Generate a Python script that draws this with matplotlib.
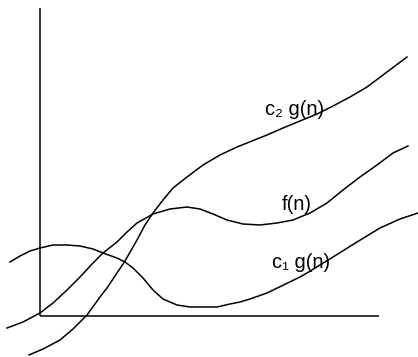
import numpy as np
import matplotlib
matplotlib.use('Agg')
import matplotlib.pyplot as plt

# Кривые (координаты от начала осей, y вверх)
c2_x = [-11, 3, 20, 33, 47, 60, 67, 77, 85, 97, 105, 113, 123, 133, 147, 163, 180, 197, 212, 227,
        243, 260, 277, 293, 310, 327, 343, 367]
c2_y = [-39, -33, -24, -13, 1, 19, 28, 43, 55, 76, 91, 103, 116, 128, 139, 151, 161, 169, 175, 181,
        188, 195, 202, 210, 219, 229, 241, 259]

f_x = [-33, -17, 0, 13, 27, 40, 53, 63, 77, 87, 97, 113, 130, 147, 160, 173, 187, 203, 220, 237,
       253, 270, 287, 303, 320, 337, 353, 368]
f_y = [-12, -6, 3, 13, 26, 39, 53, 63, 74, 84, 93, 102, 107, 109, 107, 102, 96, 92, 91, 93,
       96, 103, 113, 126, 139, 151, 163, 170]

c1_x = [-30, -20, -10, 0, 13, 27, 40, 53, 63, 77, 85, 93, 103, 113, 123, 137, 150, 163, 177, 190,
        200, 210, 227, 260, 267, 293, 317, 340, 360, 378]
c1_y = [54, 60, 65, 68, 71, 71, 70, 67, 63, 58, 54, 48, 38, 26, 17, 11, 9, 9, 9, 12,
        14, 17, 23, 39, 43, 59, 74, 88, 97, 103]

# Подписи
labels = ['c\u2082 g(n)', 'f(n)', 'c\u2081 g(n)']
label_pos = [(225, 201), (242, 106), (232, 48)]

# Оси (длины)
y_axis_len = 308
x_axis_len = 339

fig = plt.figure(figsize=(4.18, 3.57), dpi=100)
ax = fig.add_axes([0, 0, 1, 1])
ax.set_xlim(-40, 378)
ax.set_ylim(-41, 316)
ax.axis('off')

ax.plot([0, 0], [0, y_axis_len], color='black', lw=1.1, solid_capstyle='butt')
ax.plot([0, x_axis_len], [0, 0], color='black', lw=1.1, solid_capstyle='butt')

for xs, ys in [(c2_x, c2_y), (f_x, f_y), (c1_x, c1_y)]:
    ax.plot(xs, ys, color='black', lw=1.1, solid_joinstyle='round')

for text, (tx, ty) in zip(labels, label_pos):
    ax.text(tx, ty, text, fontsize=14.5, ha='left', va='baseline',
            family=['Liberation Sans', 'DejaVu Sans'])

fig.savefig('out.png', dpi=100)
